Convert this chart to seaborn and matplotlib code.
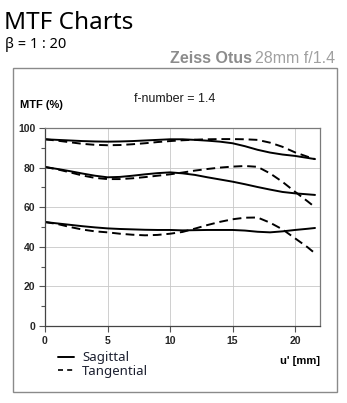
import matplotlib
matplotlib.use("Agg")
import matplotlib.pyplot as plt
import matplotlib.patches as mpatches
from matplotlib.lines import Line2D
from matplotlib.ticker import MultipleLocator
import seaborn as sns
import pandas as pd

# ---- data ----
u = [0, 1, 2, 3, 4, 5, 6, 7, 8, 9, 10, 11, 12, 13, 14, 15, 16, 17, 18, 19, 20, 21, 21.6]

sag_10 = [94.3, 94.0, 93.7, 93.4, 93.2, 93.1, 93.2, 93.4, 93.7, 94.0, 94.3, 94.3, 94.0, 93.6, 93.1, 92.3, 90.8, 89.0, 87.6, 86.6, 85.9, 84.9, 84.3]
tan_10 = [94.3, 93.6, 92.8, 92.0, 91.5, 91.3, 91.4, 91.8, 92.3, 92.9, 93.4, 93.8, 94.1, 94.3, 94.4, 94.4, 94.3, 94.0, 92.6, 90.5, 87.7, 85.5, 84.3]

sag_20 = [80.3, 79.3, 78.2, 77.0, 75.9, 75.1, 75.3, 75.9, 76.6, 77.2, 77.6, 77.1, 76.3, 75.1, 74.0, 72.9, 71.6, 70.2, 68.9, 67.7, 67.0, 66.5, 66.2]
tan_20 = [80.3, 79.1, 77.6, 76.0, 74.8, 74.2, 74.2, 74.6, 75.2, 75.9, 76.6, 77.5, 78.5, 79.3, 80.0, 80.5, 80.8, 80.4, 77.1, 72.8, 67.8, 63.0, 60.0]

sag_40 = [52.5, 51.8, 51.1, 50.4, 49.8, 49.3, 49.0, 48.8, 48.6, 48.5, 48.5, 48.3, 48.4, 48.5, 48.5, 48.5, 48.2, 47.6, 47.3, 47.8, 48.5, 49.1, 49.5]
tan_40 = [52.5, 51.5, 50.0, 48.7, 47.8, 47.3, 46.6, 46.1, 45.8, 46.0, 46.6, 47.5, 49.2, 51.0, 52.6, 53.9, 54.7, 54.8, 52.2, 48.8, 44.3, 39.8, 36.7]

series = {
    ("10", "Sagittal"): sag_10, ("10", "Tangential"): tan_10,
    ("20", "Sagittal"): sag_20, ("20", "Tangential"): tan_20,
    ("40", "Sagittal"): sag_40, ("40", "Tangential"): tan_40,
}

x_ticks = [0, 5, 10, 15, 20]
y_ticks = [0, 20, 40, 60, 80, 100]

rows = []
for (freq, kind), vals in series.items():
    for xv, yv in zip(u, vals):
        rows.append({"u": xv, "mtf": yv, "kind": kind, "curve": f"{freq}-{kind}"})
df = pd.DataFrame(rows)

# ---- figure ----
sns.set_style("white")
plt.rcParams["font.family"] = ["Liberation Sans", "DejaVu Sans"]

W, H = 347, 403
fig = plt.figure(figsize=(W / 100, H / 100), dpi=100)

def fx(px):
    return px / W

def fy(py):
    return 1 - py / H

# frame box
fig.patches.append(mpatches.Rectangle((fx(12.5), fy(392)), fx(337) - fx(12.5), fy(68) - fy(392),
                                      transform=fig.transFigure, fill=False,
                                      edgecolor="#8a8a8a", linewidth=1.0))

ax = fig.add_axes([fx(45), fy(326), fx(320) - fx(45), fy(128) - fy(326)])

dash = (4.5, 2.5)
sns.lineplot(data=df, x="u", y="mtf", units="curve", style="kind", estimator=None,
             color="black", linewidth=1.4, dashes={"Sagittal": "", "Tangential": dash},
             sort=False, legend=False, ax=ax)

ax.set_xlim(0, 22)
ax.set_ylim(0, 100)
ax.set_xticks(x_ticks)
ax.set_yticks(y_ticks)
ax.yaxis.set_minor_locator(MultipleLocator(10))
ax.set_xticklabels([str(t) for t in x_ticks], fontweight="bold", fontsize=7.5)
ax.set_yticklabels([str(t) for t in y_ticks], fontweight="bold", fontsize=7.5)
ax.tick_params(axis="both", which="major", direction="out", length=4, width=0.8,
               color="#555555", pad=3, bottom=True, left=True)
ax.tick_params(axis="y", which="minor", direction="out", length=3, width=0.8,
               color="#555555", left=True)
ax.grid(True, which="major", color="#c8c8c8", linewidth=0.6)
ax.set_xlabel("")
ax.set_ylabel("")
for side in ["left", "bottom"]:
    ax.spines[side].set_color("#444444")
    ax.spines[side].set_linewidth(0.9)
for side in ["top", "right"]:
    ax.spines[side].set_color("#7a7a7a")
    ax.spines[side].set_linewidth(0.9)

# titles / labels
fig.text(fx(4), fy(29), "MTF Charts", fontsize=17.5, family=["Noto Sans", "DejaVu Sans"],
         color="black", ha="left", va="baseline")
fig.text(fx(5), fy(48), "β = 1 : 20", fontsize=10.5, family=["Noto Sans", "DejaVu Sans"],
         color="black", ha="left", va="baseline")
sub = fig.text(fx(335), fy(63), "28mm f/1.4", fontsize=11.5,
               family=["Liberation Sans", "DejaVu Sans"],
               color="#a0a0a0", ha="right", va="baseline")
fig.canvas.draw()
r = fig.canvas.get_renderer()
bb = sub.get_window_extent(renderer=r)
fig.text(bb.x0 / W - 0.008, fy(63), "Zeiss Otus", fontsize=11.5, fontweight="bold",
         family=["Liberation Sans", "DejaVu Sans"], color="#8c8c8c", ha="right", va="baseline")

fig.text(fx(175), fy(102), "f-number = 1.4", fontsize=9, color="#1a1a1a", ha="center", va="baseline")
fig.text(fx(20), fy(108), "MTF (%)", fontsize=8, fontweight="bold", color="black",
         ha="left", va="baseline")
fig.text(fx(320), fy(364), "u' [mm]", fontsize=8, fontweight="bold", color="black",
         ha="right", va="baseline")

# legend
handles = [Line2D([], [], color="black", linewidth=1.4),
           Line2D([], [], color="black", linewidth=1.2, linestyle=(0, (3, 2.5)))]
fig.legend(handles, ["Sagittal", "Tangential"], loc="upper left",
           bbox_to_anchor=(fx(53), fy(346)), frameon=False, handlelength=1.2,
           handletextpad=0.6, labelspacing=0.05, borderaxespad=0,
           prop={"family": ["Noto Sans", "DejaVu Sans"], "size": 9.5},
           labelcolor="#1c2030")

fig.savefig("out.png", dpi=100)
